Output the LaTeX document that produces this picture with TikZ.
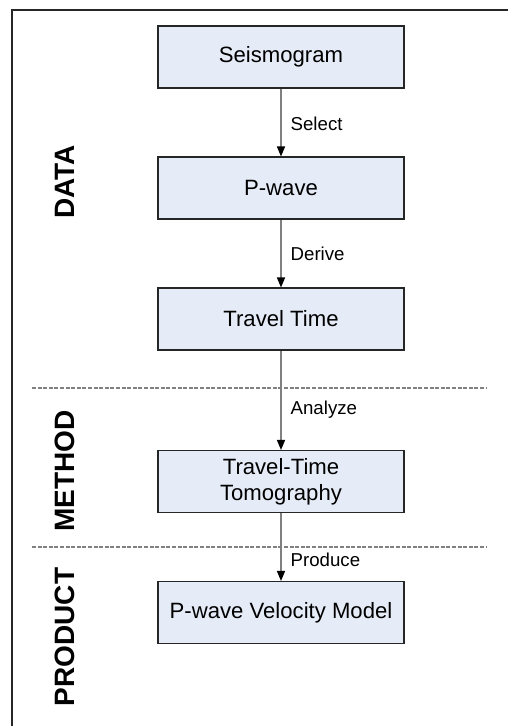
\documentclass[tikz,border=0pt]{standalone}
\usepackage{fontspec}
\setmainfont{Liberation Sans}
\usetikzlibrary{arrows.meta}

\definecolor{boxfill}{HTML}{E6ECF7}
\definecolor{linegray}{HTML}{808080}

\tikzset{
  stage/.style={draw=black!85, line width=0.8pt, fill=boxfill,
    minimum width=184.5pt, minimum height=46.5pt, inner sep=0pt,
    align=center, font=\fontsize{16.6pt}{19.5pt}\selectfont},
  flow/.style={draw=linegray, line width=1.1pt,
    -{Triangle[length=7.5pt, width=6pt, color=black]}},
  verb/.style={right, inner sep=0pt, xshift=6.7pt,
    font=\fontsize{14pt}{16pt}\selectfont},
  part/.style={rotate=90, font=\fontsize{21pt}{24pt}\selectfont\bfseries},
  divider/.style={draw=linegray, line width=0.9pt, dash pattern=on 3pt off 1.2pt}
}

\begin{document}
\begin{tikzpicture}[x=0.75pt, y=-0.75pt]
  \useasboundingbox (0,0) rectangle (508,726);

  % frame (open to the right and bottom)
  \draw[line width=1.3pt, black!85] (12,726) -- (12,10) -- (508,10);

  % boxes
  \node[stage] (seis) at (281,57)    {Seismogram};
  \node[stage] (pwave) at (281,188)  {P-wave};
  \node[stage] (ttime) at (281,319)  {Travel Time};
  \node[stage] (tomo) at (281,481.5) {Travel-Time\\Tomography};
  \node[stage] (model) at (281,612.5) {P-wave Velocity Model};

  % section dividers
  \coordinate (d1a) at (32,388);  \coordinate (d1b) at (486,388);
  \coordinate (d2a) at (32,547);  \coordinate (d2b) at (486,547);
  \draw[divider] (d1a) -- (d1b);
  \draw[divider] (d2a) -- (d2b);

  % arrows
  \draw[flow] (seis) -- node[verb, pos=0.52] {Select} (pwave);
  \draw[flow] (pwave) -- node[verb, pos=0.5] {Derive} (ttime);
  \draw[flow] (ttime) -- node[verb, pos=0.59] {Analyze} (tomo);
  \draw[flow] (tomo) -- node[verb, pos=0.69] {Produce} (model);

  % section names
  \node[part] (data) at (65,182)   {DATA};
  \node[part] (method) at (65,471) {METHOD};
  \node[part] (product) at (65,637) {PRODUCT};
\end{tikzpicture}
\end{document}
